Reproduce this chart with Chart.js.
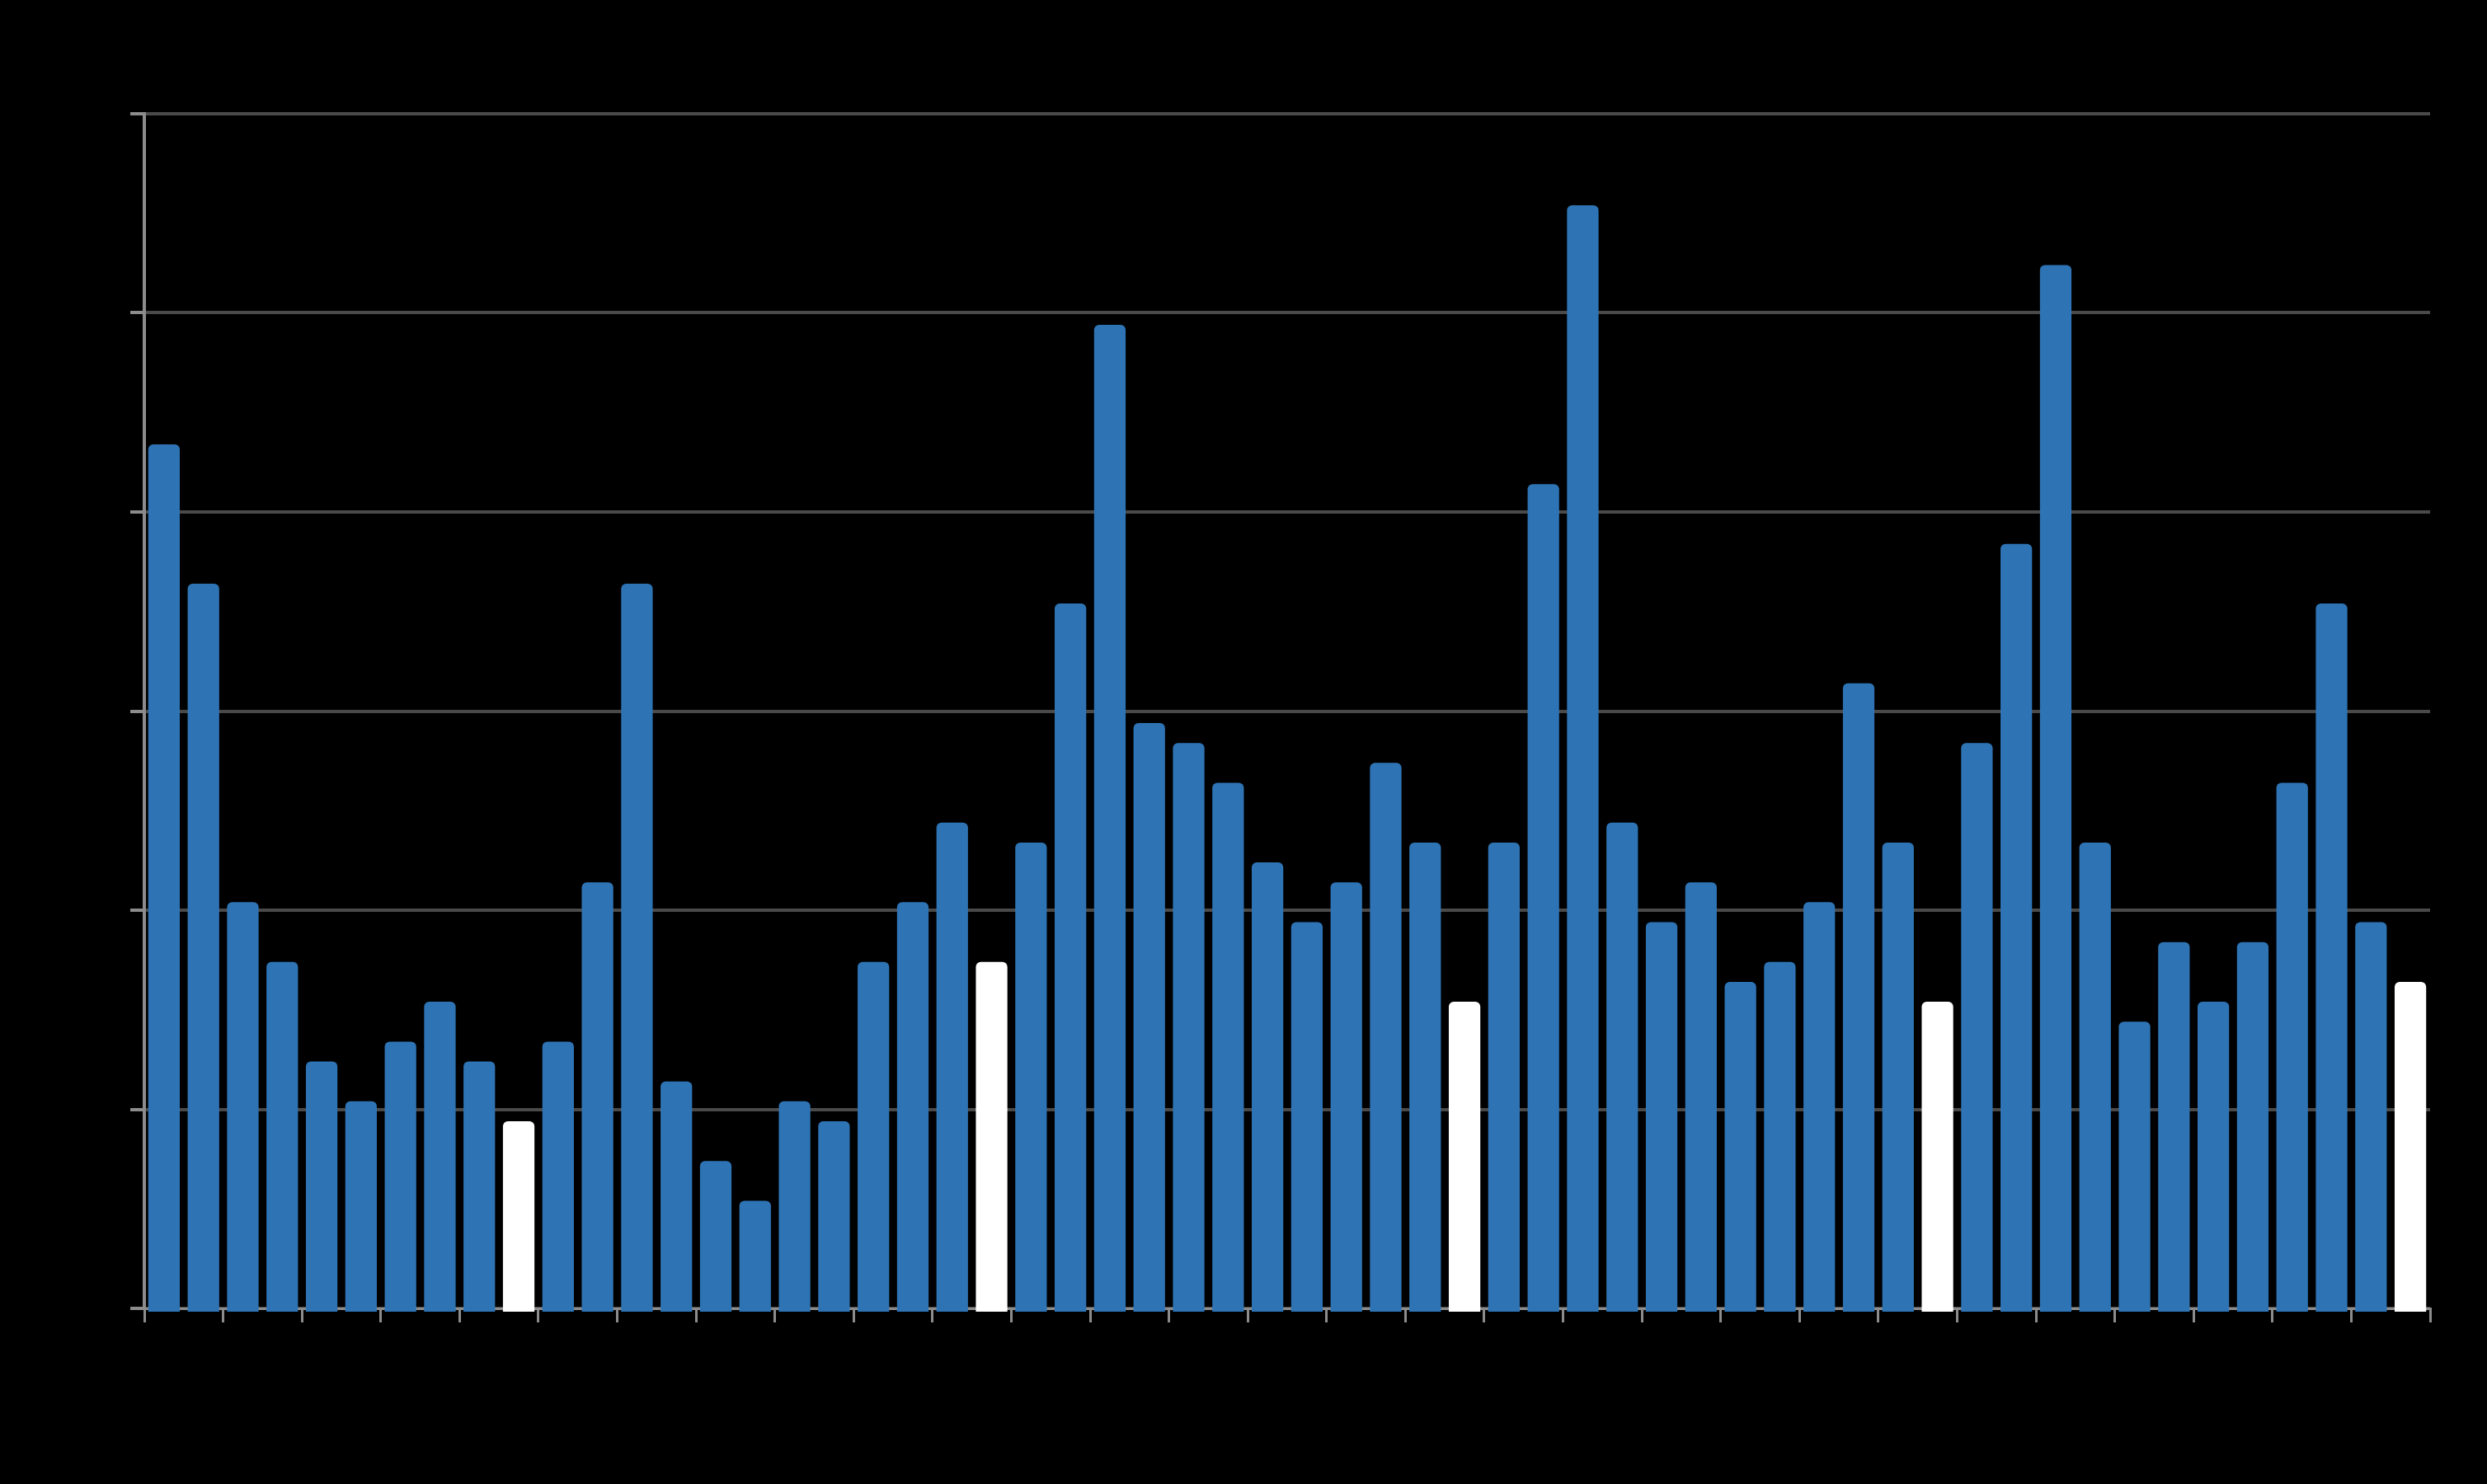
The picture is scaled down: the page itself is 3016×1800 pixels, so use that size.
<!DOCTYPE html>
<html>
<head>
<meta charset="utf-8">
<script src="https://cdn.jsdelivr.net/npm/chart.js@4/dist/chart.umd.min.js"></script>
<style>
  html, body { margin: 0; padding: 0; background: #000; }
  canvas { display: block; }
</style>
</head>
<body>
<canvas id="chart" width="3016" height="1800"></canvas>
<script>
// ---- data ----
const categories = [
  '1','2','3','4','5','6','7','8','9','10',
  '11','12','13','14','15','16','17','18','19','20',
  '21','22','23','24','25','26','27','28','29','30',
  '31','32','33','34','35','36','37','38','39','40',
  '41','42','43','44','45','46','47','48','49','50',
  '51','52','53','54','55','56','57','58'
];
const values = [
  43.4, 36.4, 20.4, 17.4, 12.4, 10.4, 13.4, 15.4, 12.4, 9.4,
  13.4, 21.4, 36.4, 11.4, 7.4, 5.4, 10.4, 9.4, 17.4, 20.4,
  24.4, 17.4, 23.4, 35.4, 49.4, 29.4, 28.4, 26.4, 22.4, 19.4,
  21.4, 27.4, 23.4, 15.4, 23.4, 41.4, 55.4, 24.4, 19.4, 21.4,
  16.4, 17.4, 20.4, 31.4, 23.4, 15.4, 28.4, 38.4, 52.4, 23.4,
  14.4, 18.4, 15.4, 18.4, 26.4, 35.4, 19.4, 16.4
];
const highlighted = [9, 21, 33, 45, 57];
const yTicks = [0, 10, 20, 30, 40, 50, 60];

// ---- styles ----
const BLUE = '#2E74B5';
const WHITE = '#FFFFFF';
const AXIS = '#8c8c8c';
const GRID = '#4a4a4a';

const barColors = values.map((v, i) => highlighted.includes(i) ? WHITE : BLUE);

const bgPlugin = {
  id: 'bg',
  beforeDraw(chart) {
    const ctx = chart.ctx;
    ctx.save();
    ctx.fillStyle = '#000';
    ctx.fillRect(0, 0, chart.width, chart.height);
    ctx.restore();
  }
};

new Chart(document.getElementById('chart'), {
  type: 'bar',
  data: {
    labels: categories,
    datasets: [{
      data: values,
      backgroundColor: barColors,
      borderWidth: 0,
      borderRadius: { topLeft: 6, topRight: 6, bottomLeft: 0, bottomRight: 0 },
      borderSkipped: 'start',
      categoryPercentage: 1.0,
      barPercentage: 0.8,
      base: -0.17,
      clip: false
    }]
  },
  options: {
    responsive: false,
    animation: false,
    devicePixelRatio: 1,
    layout: { padding: { left: 158, top: 138, right: 69, bottom: 196 } },
    plugins: {
      legend: { display: false },
      title: { display: false },
      tooltip: { enabled: false }
    },
    scales: {
      x: {
        type: 'category',
        offset: true,
        z: 1,
        grid: {
          offset: true,
          drawOnChartArea: false,
          drawTicks: true,
          tickLength: 17,
          lineWidth: 3,
          color: (ctx) => (ctx.index === undefined || ctx.index % 2 === 0) ? AXIS : 'rgba(0,0,0,0)'
        },
        border: { display: true, color: AXIS, width: 3 },
        ticks: { display: false }
      },
      y: {
        min: yTicks[0],
        max: yTicks[yTicks.length - 1],
        afterBuildTicks: (scale) => { scale.ticks = yTicks.map(v => ({ value: v })); },
        grid: {
          color: GRID,
          lineWidth: 4,
          drawTicks: true,
          tickLength: 17,
          tickColor: AXIS,
          tickWidth: 4
        },
        border: { display: true, color: AXIS, width: 4 },
        ticks: { display: false }
      }
    }
  },
  plugins: [bgPlugin]
});
</script>
</body>
</html>
